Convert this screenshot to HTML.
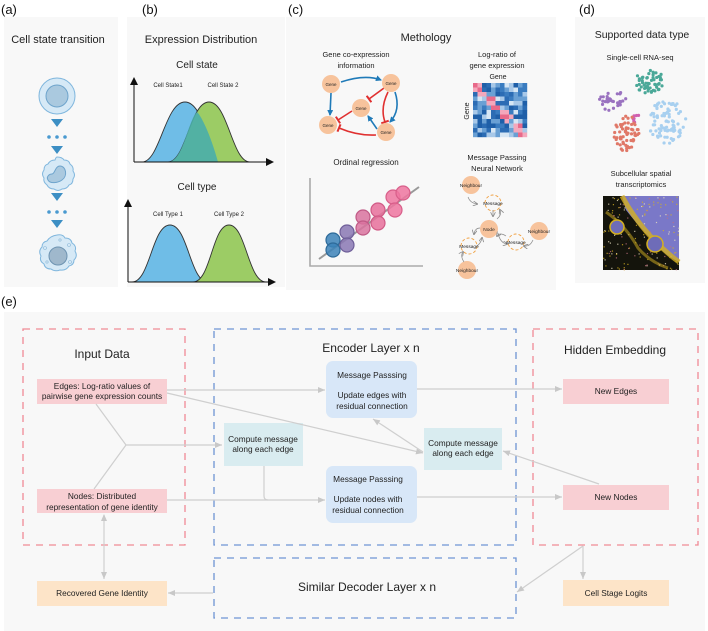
<!DOCTYPE html>
<html><head><meta charset="utf-8">
<style>
html,body{margin:0;padding:0;background:#fff;}
svg{display:block;font-family:"Liberation Sans",Arial,sans-serif;}
</style></head><body>
<svg id="s" width="708" height="631" viewBox="0 0 708 631" xmlns="http://www.w3.org/2000/svg">
<defs>
<marker id="ga" markerWidth="8" markerHeight="8" refX="7" refY="4" orient="auto" markerUnits="userSpaceOnUse"><path d="M0,1 L7,4 L0,7 Z" fill="#c8c8c8"/></marker>
<marker id="gs" markerWidth="8" markerHeight="8" refX="1" refY="4" orient="auto" markerUnits="userSpaceOnUse"><path d="M7,1 L0,4 L7,7 Z" fill="#c8c8c8"/></marker>
<marker id="ba" markerWidth="6" markerHeight="6" refX="5" refY="3" orient="auto" markerUnits="userSpaceOnUse"><path d="M0,0 L6,3 L0,6 Z" fill="#1f7ab8"/></marker>
<marker id="rt" markerWidth="4" markerHeight="8" refX="2" refY="4" orient="auto" markerUnits="userSpaceOnUse"><path d="M2,0 L2,8" stroke="#e03030" stroke-width="2"/></marker>
<marker id="ka" markerWidth="8" markerHeight="8" refX="7" refY="4" orient="auto" markerUnits="userSpaceOnUse"><path d="M0,0 L8,4 L0,8 Z" fill="#111"/></marker>
<marker id="sa" markerWidth="5" markerHeight="5" refX="4" refY="2.5" orient="auto" markerUnits="userSpaceOnUse"><path d="M0,0 L5,2.5 L0,5" fill="none" stroke="#888" stroke-width="0.8"/></marker>
</defs>

<rect x="4" y="17" width="114" height="270" fill="#f8f8f8"/>
<rect x="127" y="17" width="158" height="270" fill="#f8f8f8"/>
<rect x="286" y="17" width="270" height="273" fill="#f8f8f8"/>
<rect x="575" y="17" width="130" height="266" fill="#f8f8f8"/>
<rect x="4" y="312" width="701" height="319" fill="#f8f8f8"/>

<g font-size="13" fill="#111">
<text x="1" y="14">(a)</text><text x="142" y="14">(b)</text><text x="288" y="14">(c)</text><text x="579" y="14">(d)</text><text x="1" y="306">(e)</text>
</g>

<!-- (a) -->
<text x="58" y="43" font-size="11" text-anchor="middle" fill="#222">Cell state transition</text>
<circle cx="57" cy="96" r="18" fill="#d6e9f6" stroke="#7fb6dd" stroke-width="1"/>
<circle cx="57" cy="96" r="11" fill="#aac9df" stroke="#6ea4cc" stroke-width="1"/>
<path d="M51,119 L63,119 L57,127 Z" fill="#3d8fc4"/>
<g fill="#4a9ad0"><circle cx="49" cy="137" r="1.8"/><circle cx="57" cy="137" r="1.8"/><circle cx="65" cy="137" r="1.8"/></g>
<path d="M51,146 L63,146 L57,154 Z" fill="#3d8fc4"/>
<path d="M57,157 q5,0 7,3 q5,0 6,4 q4,3 3,7 q3,4 0,8 q0,5 -4,6 q-2,4 -7,4 q-4,3 -8,0 q-5,0 -7,-4 q-4,-3 -3,-7 q-3,-4 0,-8 q0,-5 4,-6 q2,-4 7,-4 q1,-3 2,-3z" fill="#d6e9f6" stroke="#7fb6dd"/>
<path d="M60,166 c6,0 8,10 2,14 c-4,3 -12,4 -14,0 c-2,-3 1,-6 4,-6 c3,0 3,-8 8,-8z" fill="#aac9df" stroke="#6ea4cc"/>
<path d="M51,193 L63,193 L57,201 Z" fill="#3d8fc4"/>
<g fill="#4a9ad0"><circle cx="49" cy="212" r="1.8"/><circle cx="57" cy="212" r="1.8"/><circle cx="65" cy="212" r="1.8"/></g>
<path d="M51,220 L63,220 L57,228 Z" fill="#3d8fc4"/>
<path d="M57,235 q6,-1 8,3 q6,0 7,5 q5,3 3,8 q3,5 -1,9 q0,5 -5,6 q-3,5 -9,4 q-5,2 -9,-1 q-6,0 -7,-5 q-5,-3 -3,-8 q-3,-5 1,-9 q0,-5 5,-6 q3,-5 10,-6z" fill="#d6e9f6" stroke="#7fb6dd"/>
<circle cx="58" cy="256" r="9" fill="#9fb8cc" stroke="#6e94b2"/>
<g fill="none" stroke="#8cb8d8" stroke-width="0.6"><circle cx="45" cy="248" r="1.5"/><circle cx="69" cy="245" r="1.5"/><circle cx="47" cy="262" r="1.2"/><circle cx="70" cy="262" r="1.5"/><circle cx="60" cy="240" r="1.2"/></g>

<!-- (b) -->
<text x="201" y="43" font-size="11" text-anchor="middle" fill="#222">Expression Distribution</text>
<text x="197" y="68" font-size="10" text-anchor="middle" fill="#222">Cell state</text>
<text x="168" y="87" font-size="6" text-anchor="middle" fill="#222">Cell State1</text>
<text x="223" y="87" font-size="6" text-anchor="middle" fill="#222">Cell State 2</text>
<path d="M142,162 C160,162 165,102 185,102 C205,102 210,162 228,162 Z" fill="#6fbde7" stroke="#333" stroke-width="0.9"/>
<path d="M168,162 C186,162 190,102 209,102 C228,102 232,162 250,162 Z" fill="#9ccc65" stroke="#333" stroke-width="0.9"/>
<path d="M168,162 C183,162 188,120 197,112 C203,118 212,140 218,162 Z" fill="#4aaeaa" opacity="0.9"/>
<path d="M134,162 V78" stroke="#111" stroke-width="1" marker-end="url(#ka)"/>
<path d="M134,162 H273" stroke="#111" stroke-width="1" marker-end="url(#ka)"/>
<text x="197" y="190" font-size="10" text-anchor="middle" fill="#222">Cell type</text>
<text x="168" y="216" font-size="6" text-anchor="middle" fill="#222">Cell Type 1</text>
<text x="229" y="216" font-size="6" text-anchor="middle" fill="#222">Cell Type 2</text>
<path d="M132,282 C150,282 152,225 170,225 C188,225 190,282 208,282 Z" fill="#6fbde7" stroke="#333" stroke-width="0.9"/>
<path d="M193,282 C211,282 212,225 229,225 C246,225 248,282 266,282 Z" fill="#9ccc65" stroke="#333" stroke-width="0.9"/>
<path d="M128,282 V200" stroke="#111" stroke-width="1" marker-end="url(#ka)"/>
<path d="M128,282 H275" stroke="#111" stroke-width="1" marker-end="url(#ka)"/>

<!-- (c) -->
<text x="426" y="41" font-size="11" text-anchor="middle" fill="#222">Methology</text>
<text x="356" y="57" font-size="7.5" text-anchor="middle" fill="#222">Gene co-expression</text>
<text x="356" y="68" font-size="7.5" text-anchor="middle" fill="#222">information</text>
<g fill="none" stroke-width="1.6">
<path d="M341,82 Q365,74 381,80" stroke="#1f7ab8" marker-end="url(#ba)"/>
<path d="M331,93 L330,115" stroke="#1f7ab8" marker-end="url(#ba)"/>
<path d="M395,92 Q401,110 390,122" stroke="#1f7ab8" marker-end="url(#ba)"/>
<path d="M377,129 L368,116" stroke="#1f7ab8" marker-end="url(#ba)"/>
<path d="M384,88 L369,99" stroke="#e03030" marker-end="url(#rt)"/>
<path d="M388,92 Q380,108 385,122" stroke="#e03030" marker-end="url(#rt)"/>
<path d="M352,111 L338,120" stroke="#e03030" marker-end="url(#rt)"/>
<path d="M376,135 Q358,136 339,128" stroke="#e03030" marker-end="url(#rt)"/>
</g>
<g fill="#f7c39c"><circle cx="331" cy="84" r="9"/><circle cx="391" cy="83" r="9"/><circle cx="361" cy="108" r="9"/><circle cx="328" cy="125" r="9"/><circle cx="386" cy="132" r="9"/></g>
<g font-size="4.5" text-anchor="middle" fill="#222"><text x="331" y="86">Gene</text><text x="391" y="85">Gene</text><text x="361" y="110">Gene</text><text x="328" y="127">Gene</text><text x="386" y="134">Gene</text></g>

<text x="497" y="57" font-size="7.5" text-anchor="middle" fill="#222">Log-ratio of</text>
<text x="497" y="68" font-size="7.5" text-anchor="middle" fill="#222">gene expression</text>
<text x="498" y="79" font-size="7" text-anchor="middle" fill="#222">Gene</text>
<text x="469" y="111" font-size="7" text-anchor="middle" fill="#222" transform="rotate(-90 469 111)">Gene</text>
<g id="heat"></g>

<text x="366" y="165" font-size="8" text-anchor="middle" fill="#222">Ordinal regression</text>
<path d="M310,178 V266 H423" stroke="#aaa" stroke-width="1.6" fill="none"/>
<path d="M319,259 L419,187" stroke="#999" stroke-width="2"/>
<g stroke-width="1.2" fill-opacity="0.85">
<circle cx="333" cy="240" r="7" fill="#3c82b8" stroke="#2d6a99"/>
<circle cx="333" cy="250" r="7" fill="#3c82b8" stroke="#2d6a99"/>
<circle cx="347" cy="232" r="7" fill="#8a78b4" stroke="#6f5f99"/>
<circle cx="347" cy="245" r="7" fill="#8a78b4" stroke="#6f5f99"/>
<circle cx="363" cy="217" r="7" fill="#d9739f" stroke="#c05a86"/>
<circle cx="363" cy="228" r="7" fill="#d9739f" stroke="#c05a86"/>
<circle cx="378" cy="210" r="7" fill="#e8709b" stroke="#d15a86"/>
<circle cx="378" cy="223" r="7" fill="#e8709b" stroke="#d15a86"/>
<circle cx="393" cy="197" r="7" fill="#ee76a0" stroke="#d85f8a"/>
<circle cx="395" cy="210" r="7" fill="#ee76a0" stroke="#d85f8a"/>
<circle cx="403" cy="193" r="7" fill="#ee76a0" stroke="#d85f8a"/>
</g>

<text x="497" y="160" font-size="7.5" text-anchor="middle" fill="#222">Message Passing</text>
<text x="497" y="171" font-size="7.5" text-anchor="middle" fill="#222">Neural Network</text>
<g fill="#f7c39c"><circle cx="471" cy="185" r="9"/><circle cx="489" cy="229" r="9"/><circle cx="539" cy="231" r="9"/><circle cx="467" cy="270" r="9"/></g>
<g fill="none" stroke="#f0a040" stroke-width="0.9" stroke-dasharray="3,2"><circle cx="493" cy="203" r="8"/><circle cx="516" cy="242" r="8"/><circle cx="469" cy="246" r="8"/></g>
<g fill="none" stroke="#888" stroke-width="0.7" marker-end="url(#sa)">
<path d="M468,197 Q470,203 477,204"/><path d="M493,210 L493,216"/><path d="M497,219 Q502,215 500,210"/>
<path d="M480,228 Q475,228 474,234"/><path d="M477,246 Q481,243 482,238"/><path d="M464,262 Q460,256 463,252"/>
<path d="M498,233 Q500,243 507,244"/><path d="M506,236 Q500,232 497,236"/><path d="M533,240 Q530,247 524,246"/>
</g>
<g font-size="4.8" text-anchor="middle" fill="#222"><text x="471" y="187">Neighbour</text><text x="493" y="205">Message</text><text x="489" y="231">Node</text><text x="539" y="233">Neighbour</text><text x="516" y="244">Message</text><text x="469" y="248">Message</text><text x="467" y="272">Neighbour</text></g>

<!-- (d) -->
<text x="642" y="38" font-size="10.5" text-anchor="middle" fill="#222">Supported data type</text>
<text x="640" y="60" font-size="7.5" text-anchor="middle" fill="#222">Single-cell RNA-seq</text>
<g id="dots"></g>
<text x="641" y="176" font-size="7.5" text-anchor="middle" fill="#222">Subcellular spatial</text>
<text x="641" y="187" font-size="7.5" text-anchor="middle" fill="#222">transcriptomics</text>
<rect x="603" y="196" width="76" height="74" fill="#14140c"/>
<path d="M622,196 L679,196 L679,262 Q666,256 656,244 Q640,228 626,210 Z" fill="#7a78c8"/>
<g id="spk"></g>
<path d="M622,196 Q636,222 656,242 Q668,254 679,262" stroke="#d4b020" stroke-width="5" fill="none" opacity="0.8"/>
<path d="M606,212 Q626,226 638,248 Q650,262 668,268" stroke="#b89a20" stroke-width="3" fill="none" opacity="0.6"/>
<circle cx="617" cy="227" r="7" fill="#6e6cb8" stroke="#d4b020" stroke-width="1.5"/>
<circle cx="655" cy="244" r="8" fill="#6e6cb8" stroke="#d4b020" stroke-width="1.5"/>

<!-- (e) -->
<g fill="none" stroke-width="1.3" stroke-dasharray="7,6">
<rect x="23" y="329" width="162" height="216" stroke="#f08a95"/>
<rect x="214" y="329" width="302" height="216" stroke="#6e94d4"/>
<rect x="533" y="329" width="165" height="216" stroke="#f08a95"/>
<rect x="214" y="558" width="302" height="60" stroke="#6e94d4"/>
</g>
<g font-size="12" text-anchor="middle" fill="#222">
<text x="102" y="358">Input Data</text>
<text x="371" y="352">Encoder Layer x n</text>
<text x="615" y="354">Hidden Embedding</text>
<text x="367" y="591">Similar Decoder Layer x n</text>
</g>
<g fill="#f8cfd3">
<rect x="37" y="379" width="130" height="25"/><rect x="37" y="489" width="130" height="24"/>
<rect x="563" y="379" width="106" height="25"/><rect x="563" y="485" width="106" height="25"/>
</g>
<g fill="#fde4c8"><rect x="37" y="581" width="130" height="25"/><rect x="563" y="580" width="106" height="26"/></g>
<g fill="#d9ecf0"><rect x="224" y="423" width="79" height="43"/><rect x="424" y="428" width="78" height="42"/></g>
<g fill="#d8e7f8"><rect x="326" y="361" width="91" height="57" rx="7"/><rect x="326" y="466" width="91" height="57" rx="7"/></g>

<g stroke="#cfcfcf" stroke-width="1.2" fill="none">
<path d="M96,404 L126,445 L94,489"/>
<path d="M126,445 H222" marker-end="url(#ga)"/>
<path d="M167,390 H325" marker-end="url(#ga)"/>
<path d="M167,393 L423,453" marker-end="url(#ga)"/>
<path d="M167,500 H325" marker-end="url(#ga)"/>
<path d="M264,466 V496 Q264,500 268,500"/>
<path d="M417,389 H562" marker-end="url(#ga)"/>
<path d="M417,497 H562" marker-end="url(#ga)"/>
<path d="M423,452 L373,419" marker-end="url(#ga)"/>
<path d="M599,484 L503,451" marker-end="url(#ga)"/>
<path d="M583,546 V579" marker-end="url(#ga)"/>
<path d="M583,546 L517,592" marker-end="url(#ga)"/>
<path d="M213,593 H168" marker-end="url(#ga)"/>
<path d="M104,515 V579" marker-start="url(#gs)" marker-end="url(#ga)"/>
</g>

<g font-size="8.3" text-anchor="middle" fill="#222">
<text x="102" y="389">Edges: Log-ratio values of</text>
<text x="102" y="399">pairwise gene expression counts</text>
<text x="102" y="499">Nodes: Distributed</text>
<text x="102" y="510">representation of gene identity</text>
<text x="102" y="596">Recovered Gene Identity</text>
<text x="616" y="394">New Edges</text>
<text x="616" y="500">New Nodes</text>
<text x="616" y="596">Cell Stage Logits</text>
<text x="263" y="442">Compute message</text>
<text x="263" y="452">along each edge</text>
<text x="463" y="446">Compute message</text>
<text x="463" y="456">along each edge</text>
<text x="372" y="378">Message Passsing</text>
<text x="372" y="398">Update edges with</text>
<text x="372" y="409">residual connection</text>
<text x="368" y="482">Message Passsing</text>
<text x="368" y="502">Update nodes with</text>
<text x="368" y="513">residual connection</text>
</g>
</svg>
<script>
(function(){
var NS="http://www.w3.org/2000/svg";
var seed=7;function r(){seed=(seed*9301+49297)%233280;return seed/233280;}
var h=document.getElementById("heat");var n=12,x0=473,y0=83,cs=54/n;
var blues=["#1f5fa8","#3a7cc0","#6aa0d4","#a8c8e8","#d6e6f4","#2c6cb4"];
for(var i=0;i<n;i++)for(var j=0;j<n;j++){var c=blues[Math.floor(r()*blues.length)];
var d=Math.abs(i-j);if((d<2&&((i<3&&j<3)||(i>=3&&i<6&&j>=3&&j<6)||(i>=6&&i<9&&j>=6&&j<9)||(i>=9&&j>=9)))&&r()<0.8)c=r()<0.5?"#e86a8a":"#f4a8bc";
var e=document.createElementNS(NS,"rect");e.setAttribute("x",x0+j*cs);e.setAttribute("y",y0+i*cs);e.setAttribute("width",cs+0.2);e.setAttribute("height",cs+0.2);e.setAttribute("fill",c);h.appendChild(e);}
var g=document.getElementById("dots");
function cl(cx,cy,rx,ry,k,col,rr){for(var m=0;m<k;m++){var a=r()*6.283,q=Math.sqrt(r());var e=document.createElementNS(NS,"circle");e.setAttribute("cx",cx+Math.cos(a)*q*rx);e.setAttribute("cy",cy+Math.sin(a)*q*ry);e.setAttribute("r",rr||1.6);e.setAttribute("fill",col);g.appendChild(e);}}
cl(650,82,15,12,55,"#4aa898");cl(613,101,14,10,35,"#9a72c0");cl(636,118,4,5,7,"#d060b0");cl(626,133,13,18,60,"#e07868");cl(667,122,19,22,85,"#a8d0f0");
var s=document.getElementById("spk");
for(var m=0;m<160;m++){var x=603+r()*76,y=196+r()*74;var e=document.createElementNS(NS,"rect");e.setAttribute("x",x);e.setAttribute("y",y);e.setAttribute("width",1.2);e.setAttribute("height",1.2);var t=r();e.setAttribute("fill",t<0.5?"#d4b020":(t<0.75?"#c07080":"#e8e0c0"));e.setAttribute("opacity",0.8);s.appendChild(e);}
})();
</script>
</body></html>
